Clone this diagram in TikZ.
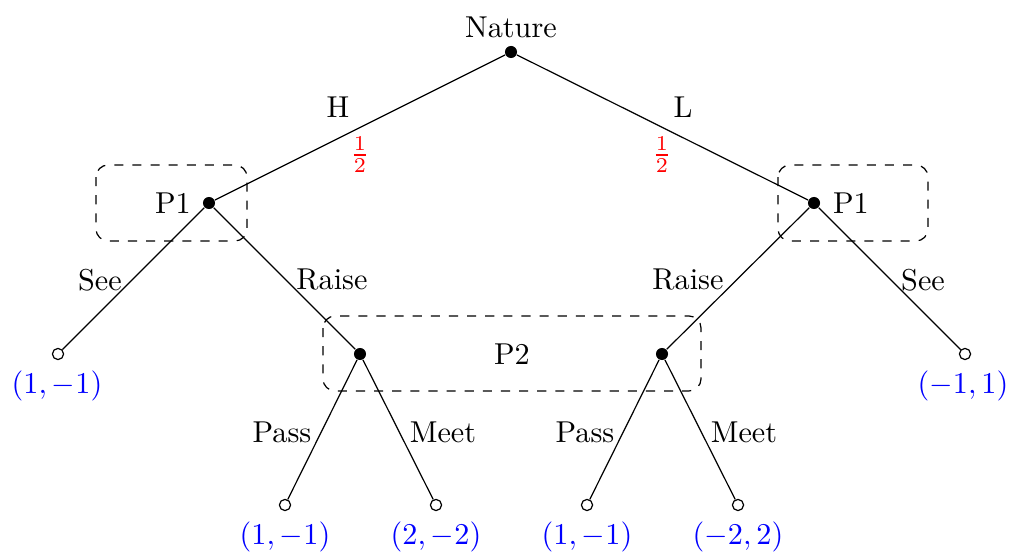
\documentclass[tikz,border=0pt]{standalone}
\begin{document}
\begin{tikzpicture}[x=0.3311pt,y=-0.3311pt,
  decision/.style={circle,fill=black,inner sep=0pt,minimum size=4pt},
  terminal/.style={circle,draw,fill=white,inner sep=0pt,minimum size=3.7pt},
  infoset/.style={draw,dashed,rounded corners=4pt},
  payoff/.style={text=blue,inner sep=0pt},
  prob/.style={text=red,inner sep=0pt},
  lbl/.style={inner sep=0pt}]
\useasboundingbox (0,0) rectangle (1011,554);
% information sets
\draw[infoset] (96,165) rectangle (247,241);
\draw[infoset] (778,165) rectangle (928,241);
\draw[infoset] (323,316) rectangle (701,391);
% nodes
\node[decision] (n0) at (511,52) {};
\node[decision] (p1l) at (209,203) {};
\node[decision] (p1r) at (814,203) {};
\node[decision] (p2l) at (360,354) {};
\node[decision] (p2r) at (662,354) {};
\node[terminal] (t1) at (58,354) {};
\node[terminal] (t2) at (965,354) {};
\node[terminal] (t3) at (285,505) {};
\node[terminal] (t4) at (436,505) {};
\node[terminal] (t5) at (587,505) {};
\node[terminal] (t6) at (738,505) {};
% edges
\draw (n0) -- (p1l);
\draw (n0) -- (p1r);
\draw (p1l) -- (t1);
\draw (p1l) -- (p2l);
\draw (p1r) -- (p2r);
\draw (p1r) -- (t2);
\draw (p2l) -- (t3);
\draw (p2l) -- (t4);
\draw (p2r) -- (t5);
\draw (p2r) -- (t6);
% labels
\node[lbl] (lnat) at (511,27) {Nature};
\node[lbl] (lh) at (338,107) {H};
\node[lbl] (ll) at (683,107) {L};
\node[prob] (pr1) at (360,155) {$\frac{1}{2}$};
\node[prob] (pr2) at (662,155) {$\frac{1}{2}$};
\node[lbl] (lp1l) at (173,203) {P1};
\node[lbl] (lp1r) at (851,203) {P1};
\node[lbl] (ls1) at (100,280) {See};
\node[lbl] (lr1) at (332,280) {Raise};
\node[lbl] (lr2) at (688,280) {Raise};
\node[lbl] (ls2) at (923,280) {See};
\node[lbl] (lp2) at (512,354) {P2};
\node[payoff] (u1) at (57,386) {$(1,-1)$};
\node[payoff] (u2) at (963,386) {$(-1,1)$};
\node[lbl] (la1) at (282,432) {Pass};
\node[lbl] (lm1) at (443,432) {Meet};
\node[lbl] (la2) at (585,432) {Pass};
\node[lbl] (lm2) at (744,432) {Meet};
\node[payoff] (u3) at (285,537) {$(1,-1)$};
\node[payoff] (u4) at (436,537) {$(2,-2)$};
\node[payoff] (u5) at (587,537) {$(1,-1)$};
\node[payoff] (u6) at (738,537) {$(-2,2)$};
\end{tikzpicture}
\end{document}
